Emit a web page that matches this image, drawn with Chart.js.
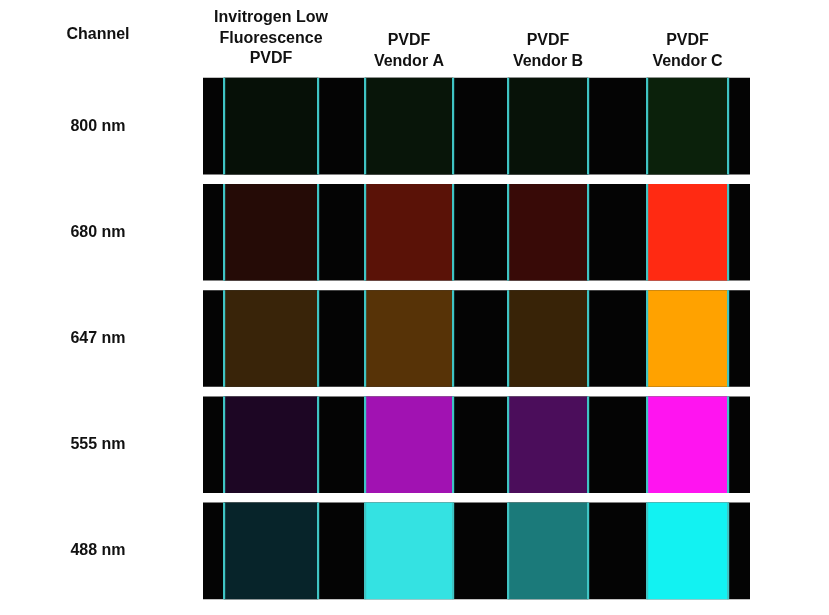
<!DOCTYPE html>
<html>
<head>
<meta charset="utf-8">
<script src="https://cdn.jsdelivr.net/npm/chart.js@4"></script>
<style>
  body { margin: 0; background: #fff; }
  #wrap { width: 829px; height: 615px; }
</style>
</head>
<body>
<div id="wrap"><canvas id="c"></canvas></div>
<script>
// rows and lanes
const channels = ['800 nm', '680 nm', '647 nm', '555 nm', '488 nm'];
const lanes = [
  ['Invitrogen Low', 'Fluorescence', 'PVDF'],
  ['PVDF', 'Vendor A'],
  ['PVDF', 'Vendor B'],
  ['PVDF', 'Vendor C']
];
// lane spans along the strip (strip units, 0..547)
const laneStart = [21, 162, 305, 444];
const laneEnd = [115, 250, 385, 525];
const stripEnd = 547;

// lane colour per channel (row)
const laneColors = [
  ['#061007', '#250b06', '#392409', '#1d0624', '#07242a'],
  ['#081509', '#5a1207', '#573307', '#a112b2', '#34e2e2'],
  ['#071208', '#380a07', '#382307', '#4b0d5b', '#1b7a7a'],
  ['#0b210b', '#ff2a12', '#ffa200', '#ff14f0', '#12f2f2']
];
const edgeColor = '#3fc4c4';

const datasets = [];
laneStart.forEach((s, i) => {
  [s, laneEnd[i]].forEach(x => {
    datasets.push({
      data: channels.map(() => [x - 1, x + 1.2]),
      backgroundColor: edgeColor,
      order: 1
    });
  });
  datasets.push({
    data: channels.map(() => [s, laneEnd[i]]),
    backgroundColor: laneColors[i],
    order: 2
  });
});
datasets.push({
  data: channels.map(() => [0, stripEnd]),
  backgroundColor: '#040404',
  order: 3
});

const textPlugin = {
  id: 'labels',
  afterDraw(chart) {
    const { ctx, scales } = chart;
    ctx.save();
    ctx.fillStyle = '#111';
    ctx.font = 'bold 16px "Liberation Sans", Arial, sans-serif';
    ctx.textAlign = 'center';
    ctx.textBaseline = 'middle';
    ctx.fillText('Channel', 98, 35);
    channels.forEach((c, i) => ctx.fillText(c, 98, scales.y.getPixelForValue(i)));
    lanes.forEach((lines, i) => {
      const cx = scales.x.getPixelForValue((laneStart[i] + laneEnd[i]) / 2);
      const top = lines.length === 3 ? 18 : 41;
      lines.forEach((t, j) => ctx.fillText(t, cx, top + j * 20.5));
    });
    ctx.restore();
  }
};

new Chart(document.getElementById('c'), {
  type: 'bar',
  data: { labels: channels, datasets },
  options: {
    indexAxis: 'y',
    responsive: true,
    maintainAspectRatio: false,
    animation: false,
    grouped: false,
    barPercentage: 0.91,
    categoryPercentage: 1,
    layout: { padding: { left: 203, right: 79, top: 73, bottom: 11 } },
    plugins: { legend: { display: false }, tooltip: { enabled: false } },
    scales: {
      x: { display: false, min: 0, max: stripEnd },
      y: { display: false }
    }
  },
  plugins: [textPlugin]
});
</script>
</body>
</html>
